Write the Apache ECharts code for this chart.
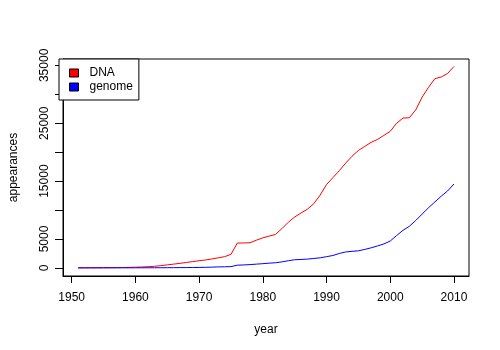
<!DOCTYPE html>
<html>
<head>
<meta charset="utf-8">
<script src="https://cdn.jsdelivr.net/npm/echarts@6/dist/echarts.min.js"></script>
<style>
  html, body { margin: 0; padding: 0; background: #fff; }
  #myChart { width: 500px; height: 350px; }
</style>
</head>
<body>
<div id="myChart"></div>
<script>
// years and yearly counts
const years = []
for (let y = 1951; y <= 2010; y++) years.push(y)

const dna = [
  30, 35, 40, 45, 50, 60, 70, 80, 100, 130,
  170, 220, 280, 400, 530, 660, 800, 950, 1100, 1250,
  1380, 1550, 1750, 1950, 2350, 4300, 4320, 4350, 4800, 5200,
  5500, 5800, 6800, 7900, 8800, 9500, 10150, 11100, 12600, 14400,
  15600, 16800, 18100, 19300, 20300, 21000, 21700, 22200, 22900, 23600,
  25000, 25900, 25950, 27300, 29500, 31200, 32700, 33000, 33600, 34800
]
const genome = [
  10, 10, 12, 12, 15, 15, 18, 20, 22, 25,
  28, 30, 35, 40, 45, 55, 60, 70, 80, 90,
  110, 140, 180, 200, 230, 480, 520, 580, 660, 740,
  830, 900, 1050, 1250, 1420, 1470, 1530, 1640, 1750, 1950,
  2150, 2500, 2760, 2870, 2960, 3200, 3480, 3800, 4150, 4650,
  5600, 6500, 7200, 8200, 9300, 10400, 11400, 12400, 13300, 14500
]

const xTicks = [1950, 1960, 1970, 1980, 1990, 2000, 2010]
const yTicks = [0, 5000, 10000, 15000, 20000, 25000, 30000, 35000]
const yLabels = [0, 5000, 15000, 25000, 35000]

const font = 'Liberation Sans, Arial, sans-serif'
const plain = v => String(Math.round(v))

let myChart = echarts.init(document.getElementById('myChart'))
myChart.setOption({
  animation: false,
  backgroundColor: '#fff',
  textStyle: { fontFamily: font },
  grid: {
    left: 59, right: 31, top: 59, bottom: 74,
    show: true, borderColor: '#000', borderWidth: 1, backgroundColor: 'transparent'
  },
  legend: {
    orient: 'vertical',
    left: 59, top: 59,
    padding: [7, 6, 6, 10],
    itemGap: 0,
    itemWidth: 9, itemHeight: 8,
    icon: 'rect',
    backgroundColor: '#fff',
    borderColor: '#000',
    borderWidth: 1,
    borderRadius: 0,
    itemStyle: { borderColor: '#000', borderWidth: 1 },
    textStyle: { fontFamily: font, fontSize: 12, color: '#000', lineHeight: 14, padding: [0, 0, 0, 6] },
    data: ['DNA', 'genome']
  },
  xAxis: {
    type: 'value',
    min: 1948.64, max: 2012.36,
    name: 'year', nameLocation: 'middle', nameGap: 48,
    nameTextStyle: { fontFamily: font, fontSize: 12, color: '#000' },
    splitLine: { show: false },
    axisLine: { show: true, onZero: false, lineStyle: { color: '#000', width: 1 } },
    axisTick: { show: true, length: 7, customValues: xTicks, lineStyle: { color: '#000' } },
    axisLabel: { customValues: xTicks, formatter: plain, margin: 16, fontSize: 12, color: '#000', fontFamily: font }
  },
  yAxis: {
    type: 'value',
    min: -1390, max: 36100,
    name: 'appearances', nameLocation: 'middle', nameGap: 43,
    nameTextStyle: { fontFamily: font, fontSize: 12, color: '#000' },
    splitLine: { show: false },
    axisLine: { show: true, onZero: false, lineStyle: { color: '#000', width: 1 } },
    axisTick: { show: true, length: 8, customValues: yTicks, lineStyle: { color: '#000' } },
    axisLabel: { customValues: yLabels, formatter: plain, rotate: 90, margin: 12, fontSize: 12, color: '#000', fontFamily: font }
  },
  series: [
    {
      name: 'DNA', type: 'line', showSymbol: false, symbol: 'none',
      color: '#ff0000', lineStyle: { width: 1, color: '#ff0000' },
      data: years.map((y, i) => [y, dna[i]])
    },
    {
      name: 'genome', type: 'line', showSymbol: false, symbol: 'none',
      color: '#0000ff', lineStyle: { width: 1, color: '#0000ff' },
      data: years.map((y, i) => [y, genome[i]])
    }
  ]
})
</script>
</body>
</html>
